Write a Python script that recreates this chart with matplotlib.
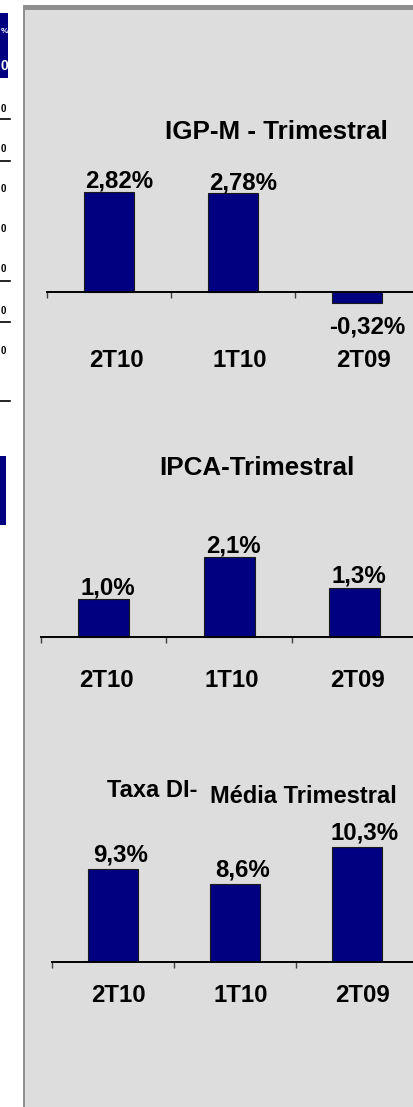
# -*- coding: utf-8 -*-

import matplotlib
matplotlib.use('Agg')
import matplotlib.pyplot as plt
from matplotlib.patches import Rectangle
from matplotlib.lines import Line2D

# dados
categorias = ['2T10', '1T10', '2T09']

igpm = [2.82, 2.78, -0.32]
igpm_rotulos = ['2,82%', '2,78%', '-0,32%']

ipca = [1.0, 2.1, 1.3]
ipca_rotulos = ['1,0%', '2,1%', '1,3%']

taxa_di = [9.3, 8.6, 10.3]
taxa_di_rotulos = ['9,3%', '8,6%', '10,3%']

W, H = 414, 1107
DPI = 100
AZUL = '#000080'
FUNDO = '#dddddd'

plt.rcParams['font.family'] = ['Liberation Sans', 'DejaVu Sans']
plt.rcParams['font.weight'] = 'bold'


def pt(p):
  # pixels -> pontos
  return p * 72.0 / DPI


def fx(x):
  return x / W


def fy(y):
  return 1 - y / H


def drawBarras(fig, valores, rotulos, left, cat_w, base_y, base_val, escala,
               top_y, bot_y, dx, gap, gap_neg, cat_base):
  ax = fig.add_axes([fx(left), fy(bot_y), 3 * cat_w / W, (bot_y - top_y) / H])
  ax.patch.set_visible(False)
  x = list(range(len(valores)))
  ax.bar(x, valores, width=0.41, color=AZUL, edgecolor='#1a1a1a', linewidth=0.8)
  ax.set_xlim(-0.5, 2.5)
  ax.set_ylim(base_val - (bot_y - base_y) / escala, base_val + (base_y - top_y) / escala)
  for s in ['left', 'top', 'right']:
    ax.spines[s].set_visible(False)
  ax.spines['bottom'].set_position(('data', base_val))
  ax.spines['bottom'].set_linewidth(1.4)
  ax.set_yticks([])
  ax.set_xticks([-0.5, 0.5, 1.5, 2.5])
  ax.set_xticklabels([])
  ax.tick_params(axis='x', direction='out', length=pt(6), width=1, color='#404040')

  for i, v in enumerate(valores):
    if v >= 0:
      ax.annotate(rotulos[i], (i, v), xytext=(pt(dx), pt(gap)), textcoords='offset points',
                  ha='center', va='baseline', fontsize=17.3, fontweight='bold',
                  annotation_clip=False)
    else:
      ax.annotate(rotulos[i], (i, v), xytext=(pt(dx), -pt(gap_neg)), textcoords='offset points',
                  ha='center', va='baseline', fontsize=17.3, fontweight='bold',
                  annotation_clip=False)
    ax.annotate(categorias[i], (i, base_val), xytext=(pt(dx * 0.7), -pt(cat_base)),
                textcoords='offset points', ha='center', va='baseline',
                fontsize=17.3, fontweight='bold', annotation_clip=False)
  return ax


fig = plt.figure(figsize=(W / DPI, H / DPI), dpi=DPI, facecolor='white')

# painel cinza com borda
fig.add_artist(Rectangle((fx(25), 0), (W - 25) / W, (H - 9) / H, transform=fig.transFigure,
                         facecolor=FUNDO, edgecolor='none', zorder=-5))
fig.add_artist(Rectangle((fx(23), 0), 2.5 / W, (H - 5) / H, transform=fig.transFigure,
                         facecolor='#8e8e8e', edgecolor='none', zorder=-4))
fig.add_artist(Rectangle((fx(23), fy(9.5)), (W - 23) / W, 4.5 / H, transform=fig.transFigure,
                         facecolor='#8e8e8e', edgecolor='none', zorder=-4))

# restos da tabela vizinha (cortada na margem esquerda)
fig.add_artist(Rectangle((0, fy(78)), 8 / W, 65 / H, transform=fig.transFigure,
                         facecolor=AZUL, edgecolor='none', zorder=-3))
fig.text(fx(0.5), fy(33), '%', color='white', fontsize=6, ha='left', va='baseline')
fig.text(fx(0.5), fy(70), '0', color='white', fontsize=10, ha='left', va='baseline')
fig.add_artist(Rectangle((0, fy(525)), 6 / W, 69 / H, transform=fig.transFigure,
                         facecolor=AZUL, edgecolor='none', zorder=-3))
for yl in [119, 160.5, 281, 322, 401]:
  fig.add_artist(Line2D([0, fx(10)], [fy(yl), fy(yl)], transform=fig.transFigure,
                        color='black', linewidth=1.2))
for yt in [112, 152, 192, 232, 272, 314, 354]:
  fig.text(fx(0.5), fy(yt), '0', color='black', fontsize=7, ha='left', va='baseline')

# IGP-M
drawBarras(fig, igpm, igpm_rotulos, left=47, cat_w=124, base_y=292, base_val=0, escala=35.5,
           top_y=150, bot_y=340, dx=10, gap=4, gap_neg=30, cat_base=75)
fig.text(fx(276), fy(139), 'IGP-M - Trimestral', fontsize=18.7, fontweight='bold',
         ha='center', va='baseline')

# IPCA
drawBarras(fig, ipca, ipca_rotulos, left=41, cat_w=125.5, base_y=637, base_val=0, escala=38,
           top_y=500, bot_y=700, dx=4, gap=5, gap_neg=30, cat_base=50)
fig.text(fx(257), fy(475), 'IPCA-Trimestral', fontsize=18.7, fontweight='bold',
         ha='center', va='baseline')

# Taxa DI
drawBarras(fig, taxa_di, taxa_di_rotulos, left=52, cat_w=122, base_y=962, base_val=5, escala=21.7,
           top_y=820, bot_y=962, dx=8, gap=7, gap_neg=30, cat_base=40)
fig.text(fx(107), fy(797), 'Taxa DI-', fontsize=17, fontweight='bold',
         ha='left', va='baseline')
fig.text(fx(210), fy(803), 'Média Trimestral', fontsize=17, fontweight='bold',
         ha='left', va='baseline')

fig.savefig('out.png', dpi=DPI, facecolor='white')
